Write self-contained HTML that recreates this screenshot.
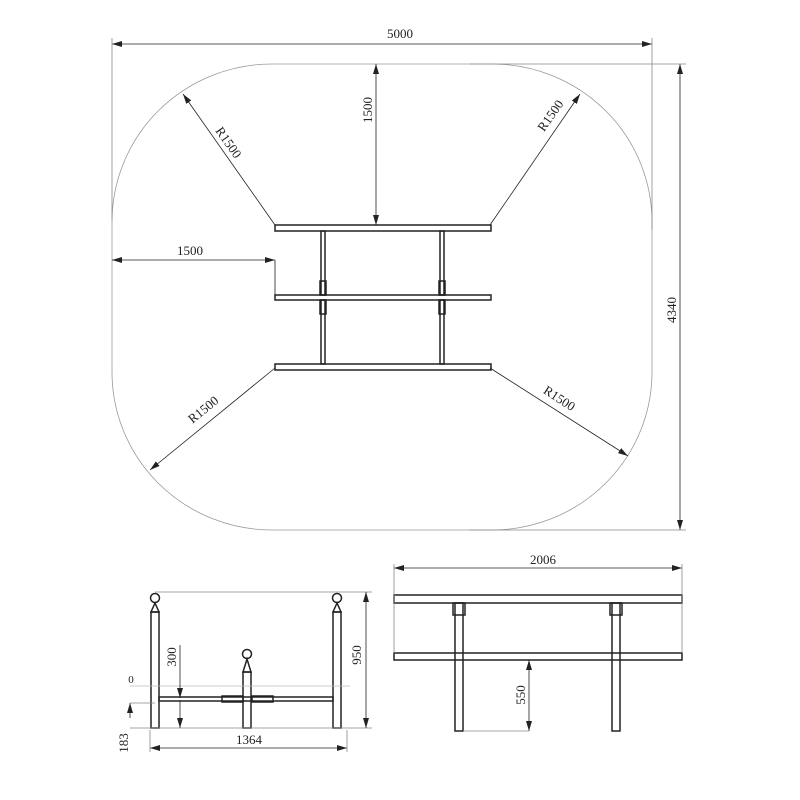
<!DOCTYPE html>
<html><head><meta charset="utf-8"><style>body{margin:0;background:#fff}svg{display:block}text{font-family:"Liberation Serif",serif;font-size:13px;fill:#222}</style></head><body>
<svg width="800" height="800" viewBox="0 0 800 800" xmlns="http://www.w3.org/2000/svg">
<defs><marker id="a" markerWidth="10" markerHeight="6" refX="10" refY="3" orient="auto-start-reverse" markerUnits="userSpaceOnUse"><path d="M0,0 L10,3 L0,6 z" fill="#222"/></marker></defs>
<g stroke="#222" fill="none" stroke-width="0.8">
<rect x="112" y="64" width="540" height="466" rx="160" ry="158" stroke="#999"/>
<line x1="112" y1="44" x2="652" y2="44" marker-start="url(#a)" marker-end="url(#a)"/>
<line x1="112" y1="38" x2="112" y2="220" stroke="#888"/>
<line x1="652" y1="38" x2="652" y2="230" stroke="#888"/>
<line x1="680" y1="64" x2="680" y2="530" marker-start="url(#a)" marker-end="url(#a)"/>
<line x1="470" y1="64" x2="686" y2="64" stroke="#888"/>
<line x1="470" y1="530" x2="686" y2="530" stroke="#888"/>
<line x1="183" y1="94" x2="275" y2="225" marker-start="url(#a)"/>
<line x1="580" y1="94" x2="490" y2="225" marker-start="url(#a)"/>
<line x1="150" y1="470" x2="275" y2="368" marker-start="url(#a)"/>
<line x1="628" y1="456" x2="490" y2="368" marker-start="url(#a)"/>
<line x1="376" y1="64" x2="376" y2="225" marker-start="url(#a)" marker-end="url(#a)"/>
<line x1="112" y1="260" x2="275" y2="260" marker-start="url(#a)" marker-end="url(#a)"/>
<line x1="275" y1="260" x2="275" y2="297"/>
<g stroke-width="1.5">
<rect x="275" y="225" width="216" height="6"/>
<rect x="275" y="295" width="216" height="5"/>
<rect x="275" y="364" width="216" height="6"/>
<rect x="321" y="231" width="4" height="64"/><rect x="440" y="231" width="4" height="64"/>
<rect x="321" y="300" width="4" height="64"/><rect x="440" y="300" width="4" height="64"/>
<rect x="320" y="281" width="6" height="14"/><rect x="439" y="281" width="6" height="14"/>
<rect x="320" y="300" width="6" height="14"/><rect x="439" y="300" width="6" height="14"/>
</g>
<g stroke-width="1.5">
<rect x="151" y="612" width="8" height="116"/>
<rect x="333" y="612" width="8" height="116"/>
<rect x="243" y="672" width="8" height="56"/>
<circle cx="155" cy="598" r="4.5"/><circle cx="337" cy="598" r="4.5"/><circle cx="247" cy="654" r="4.5"/>
<path d="M155,603 L151,612 L159,612z M337,603 L333,612 L341,612z M247,659 L243,672 L251,672z"/>
<rect x="159" y="697" width="174" height="4"/>
<rect x="222" y="696" width="21" height="6"/><rect x="252" y="696" width="21" height="6"/>
</g>
<line x1="130" y1="686" x2="350" y2="686" stroke="#bbb"/>
<line x1="155" y1="592" x2="372" y2="592" stroke="#888"/>
<line x1="130" y1="728" x2="372" y2="728" stroke="#888"/>
<line x1="366" y1="592" x2="366" y2="728" marker-start="url(#a)" marker-end="url(#a)"/>
<line x1="180" y1="645" x2="180" y2="698" marker-end="url(#a)"/>
<line x1="180" y1="700" x2="180" y2="728" marker-end="url(#a)"/>
<line x1="130" y1="703" x2="130" y2="718" marker-start="url(#a)"/>
<line x1="130" y1="703" x2="155" y2="703" stroke="#888"/>
<line x1="150" y1="748" x2="347" y2="748" marker-start="url(#a)" marker-end="url(#a)"/>
<line x1="150" y1="730" x2="150" y2="752" stroke="#888"/>
<line x1="347" y1="730" x2="347" y2="752" stroke="#888"/>
<g stroke-width="1.5">
<rect x="394" y="595" width="288" height="8"/>
<rect x="394" y="653" width="288" height="7"/>
<rect x="455" y="603" width="8" height="128"/>
<rect x="612" y="603" width="8" height="128"/>
<rect x="453" y="603" width="12" height="12"/><rect x="610" y="603" width="12" height="12"/>
</g>
<line x1="394" y1="568" x2="682" y2="568" marker-start="url(#a)" marker-end="url(#a)"/>
<line x1="394" y1="564" x2="394" y2="653" stroke="#888"/>
<line x1="682" y1="564" x2="682" y2="653" stroke="#888"/>
<line x1="529" y1="660" x2="529" y2="731" marker-start="url(#a)" marker-end="url(#a)"/>
<line x1="463" y1="731" x2="529" y2="731" stroke="#888"/>
</g>
<text x="400" y="38" text-anchor="middle">5000</text>
<text transform="translate(676,310) rotate(-90)" text-anchor="middle">4340</text>
<text transform="translate(372,110) rotate(-90)" text-anchor="middle">1500</text>
<text x="190" y="255" text-anchor="middle">1500</text>
<text transform="translate(225,145) rotate(55)" text-anchor="middle">R1500</text>
<text transform="translate(554,118) rotate(-55)" text-anchor="middle">R1500</text>
<text transform="translate(206,413) rotate(-39)" text-anchor="middle">R1500</text>
<text transform="translate(557,402) rotate(33)" text-anchor="middle">R1500</text>
<text x="543" y="564" text-anchor="middle">2006</text>
<text transform="translate(525,695) rotate(-90)" text-anchor="middle">550</text>
<text transform="translate(361,655) rotate(-90)" text-anchor="middle">950</text>
<text transform="translate(176,657) rotate(-90)" text-anchor="middle">300</text>
<text transform="translate(128,743) rotate(-90)" text-anchor="middle">183</text>
<text x="249" y="744" text-anchor="middle">1364</text>
<text x="131" y="683" text-anchor="middle" style="font-size:11px">0</text>
</svg>
</body></html>
